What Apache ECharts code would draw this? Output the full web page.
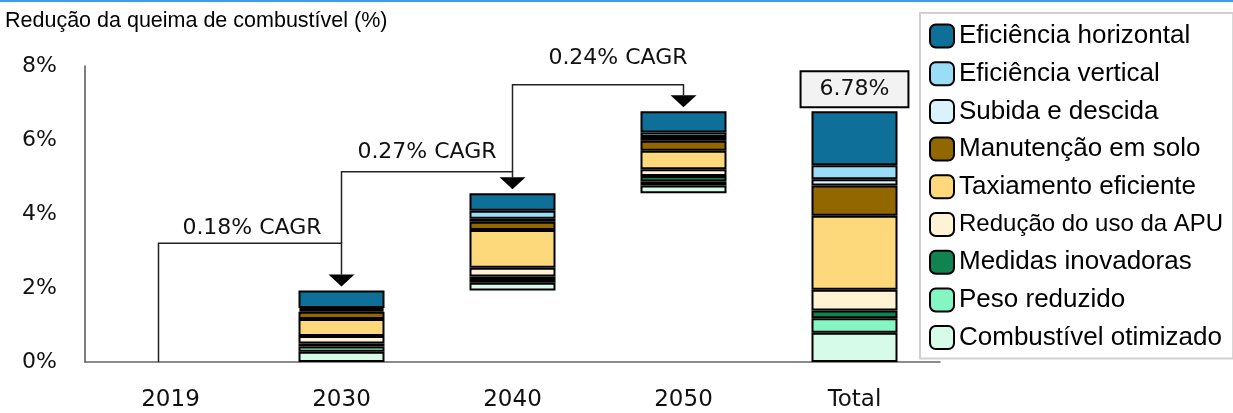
<!DOCTYPE html>
<html>
<head>
<meta charset="utf-8">
<script src="https://cdn.jsdelivr.net/npm/echarts@6/dist/echarts.min.js"></script>
<style>
  html, body { margin: 0; padding: 0; background: #fff; }
  #main { width: 1233px; height: 413px; }
</style>
</head>
<body>
<div id="main"></div>
<script>
// categorias e valores (% de redução), de baixo para cima na pilha
const categories = ['2019', '2030', '2040', '2050', 'Total'];
const baseOffset  = [0, 0, 1.93, 4.56, 0];   // parte invisível (cascata)
const combustivel = ['-', 0.28, 0.21, 0.21, 0.79];
const peso        = ['-', 0.14, 0.10, 0.11, 0.39];
const medidas     = ['-', 0.08, 0.07, 0.15, 0.21];
const apu         = ['-', 0.20, 0.24, 0.18, 0.56];
const taxiamento  = ['-', 0.46, 1.02, 0.50, 2.00];
const manutencao  = ['-', 0.20, 0.22, 0.27, 0.82];
const subida      = ['-', 0.05, 0.08, 0.10, 0.17];
const vertical    = ['-', 0.05, 0.22, 0.12, 0.38];
const horizontal  = ['-', 0.47, 0.47, 0.58, 1.46];

const yTicks = [0, 2, 4, 6, 8];

// setas de CAGR
const cagrFrom  = ['2019', '2030', '2040'];
const cagrTo    = ['2030', '2040', '2050'];
const cagrLevel = [3.21, 5.14, 7.49];
const cagrText  = ['0.18% CAGR', '0.27% CAGR', '0.24% CAGR'];

const stackSeries = [
  { name: 'Combustível otimizado', data: combustivel, color: '#d6fbe9' },
  { name: 'Peso reduzido',         data: peso,        color: '#85f5c2' },
  { name: 'Medidas inovadoras',    data: medidas,     color: '#108350' },
  { name: 'Redução do uso da APU', data: apu,         color: '#fff2d5' },
  { name: 'Taxiamento eficiente',  data: taxiamento,  color: '#fed97c' },
  { name: 'Manutenção em solo',    data: manutencao,  color: '#926700' },
  { name: 'Subida e descida',      data: subida,      color: '#daf2fc' },
  { name: 'Eficiência vertical',   data: vertical,    color: '#9bdcf7' },
  { name: 'Eficiência horizontal', data: horizontal,  color: '#0e7099' }
];

function num(v) { return typeof v === 'number' ? v : 0; }
function stackTop(i) {
  let s = baseOffset[i];
  stackSeries.forEach(function (s2) { s += num(s2.data[i]); });
  return s;
}
function segSum(i) {
  let s = 0;
  stackSeries.forEach(function (s2) { s += num(s2.data[i]); });
  return s;
}

const totalIdx = categories.indexOf('Total');
const mainFont = '"DejaVu Sans", sans-serif';
const legendFont = '"Liberation Sans", Arial, sans-serif';

const series = [{
  name: 'base',
  type: 'bar',
  stack: 'a',
  barWidth: 86,
  silent: true,
  itemStyle: { color: 'transparent', borderWidth: 0 },
  data: baseOffset
}];

stackSeries.forEach(function (s, k) {
  let data = s.data;
  if (k === stackSeries.length - 1) {
    // caixa com o total acima da barra "Total"
    data = s.data.map(function (v, i) {
      if (i !== totalIdx) return v;
      return {
        value: v,
        label: {
          show: true,
          position: 'top',
          distance: 5,
          formatter: segSum(totalIdx).toFixed(2) + '%',
          fontSize: 22,
          fontFamily: mainFont,
          color: '#111',
          backgroundColor: '#f2f2f2',
          borderColor: '#000',
          borderWidth: 2,
          padding: [6, 18]
        }
      };
    });
  }
  series.push({
    name: s.name,
    type: 'bar',
    stack: 'a',
    barWidth: 86,
    itemStyle: { color: s.color, borderColor: '#000', borderWidth: 2 },
    data: data
  });
});

// linhas e setas de CAGR
const labelDx = [2, 0, 20];
const labelDy = [15, 20, 27];
const cagrData = cagrFrom.map(function (f, i) {
  const from = categories.indexOf(f);
  const to = categories.indexOf(cagrTo[i]);
  return [from, cagrLevel[i], to, stackTop(to), i === 0 ? 0 : cagrLevel[i - 1], i];
});

series.push({
  name: 'cagr',
  type: 'custom',
  silent: true,
  clip: false,
  z: 10,
  data: cagrData,
  encode: { x: 0, y: 1 },
  renderItem: function (params, api) {
    const i = api.value(5);
    const left = api.coord([api.value(0), api.value(1)]);
    const right = api.coord([api.value(2), api.value(1)]);
    const leftBottom = api.coord([api.value(0), api.value(4)]);
    const tip = api.coord([api.value(2), api.value(3)]);
    const x0 = left[0] + (i === 0 ? -12 : 0);
    const tipY = tip[1] - 4;
    const baseY = tipY - 12;
    return {
      type: 'group',
      children: [
        {
          type: 'polyline',
          shape: { points: [[x0, leftBottom[1]], [x0, left[1]], [right[0], left[1]], [right[0], baseY]] },
          style: { stroke: '#222', lineWidth: 1.5, fill: null }
        },
        {
          type: 'polygon',
          shape: { points: [[right[0] - 13, baseY], [right[0] + 13, baseY], [right[0], tipY]] },
          style: { fill: '#000' }
        },
        {
          type: 'text',
          x: (x0 + right[0]) / 2 + labelDx[i],
          y: left[1] - labelDy[i],
          style: {
            text: cagrText[i],
            align: 'center',
            verticalAlign: 'middle',
            font: '22px ' + mainFont,
            fill: '#111'
          }
        }
      ]
    };
  }
});

const chart = echarts.init(document.getElementById('main'));
chart.setOption({
  animation: false,
  title: {
    text: 'Redução da queima de combustível (%)',
    left: 5,
    top: 10,
    padding: 0,
    textStyle: { fontSize: 21.5, fontWeight: 'normal', color: '#000', fontFamily: legendFont }
  },
  graphic: [{
    type: 'rect',
    left: 0, top: 0,
    shape: { width: 1233, height: 2 },
    style: { fill: '#3d9be9' }
  }],
  legend: {
    orient: 'vertical',
    left: 920,
    top: 13,
    data: stackSeries.map(function (s) { return s.name; }).reverse(),
    itemWidth: 24,
    itemHeight: 23,
    itemGap: 11.7,
    padding: [10, 10, 8, 9],
    backgroundColor: '#fff',
    borderColor: '#d0d0d0',
    borderWidth: 2,
    borderRadius: 0,
    selectedMode: false,
    formatter: function (name) {
      return name === 'Redução do uso da APU' ? '{s|' + name + '}' : name;
    },
    textStyle: {
      fontSize: 26,
      lineHeight: 26,
      color: '#000',
      fontFamily: legendFont,
      rich: { s: { fontSize: 24, lineHeight: 26, fontFamily: legendFont, color: '#000' } }
    }
  },
  grid: { left: 85, right: 293, top: 66, bottom: 51, containLabel: false },
  xAxis: {
    type: 'category',
    data: categories,
    axisTick: { show: false },
    axisLine: { lineStyle: { color: '#666', width: 1.5 } },
    axisLabel: { margin: 27, fontSize: 23, color: '#111', fontFamily: mainFont }
  },
  yAxis: {
    type: 'value',
    min: yTicks[0],
    max: yTicks[yTicks.length - 1],
    interval: yTicks[1] - yTicks[0],
    splitLine: { show: false },
    axisTick: { show: false },
    axisLine: { show: true, lineStyle: { color: '#555', width: 1.5 } },
    axisLabel: { margin: 28, fontSize: 22, color: '#111', fontFamily: mainFont, formatter: '{value}%' }
  },
  series: series
});
</script>
</body>
</html>
